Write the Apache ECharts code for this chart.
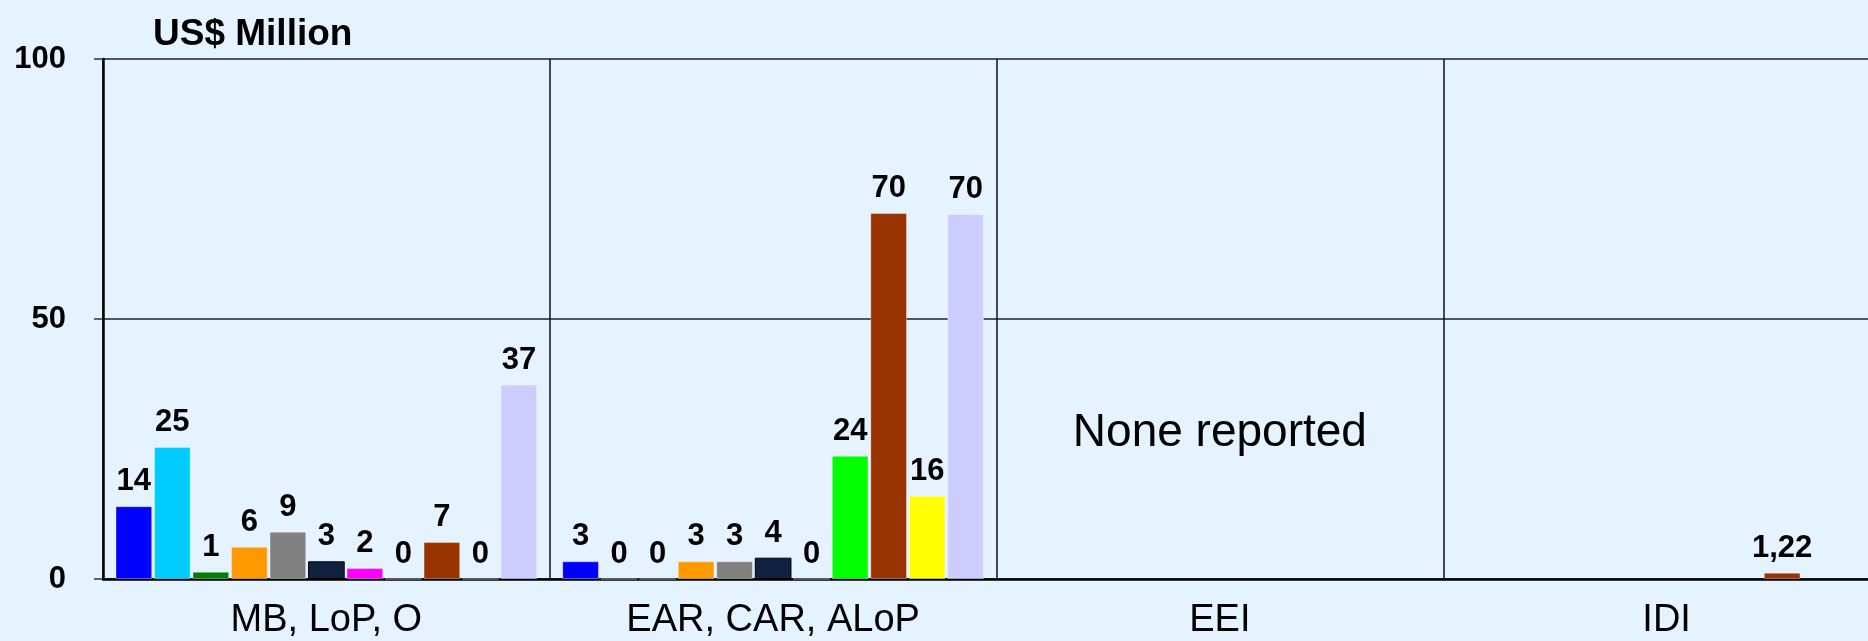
<!DOCTYPE html>
<html>
<head>
<meta charset="utf-8">
<script src="https://cdn.jsdelivr.net/npm/echarts@6/dist/echarts.min.js"></script>
<style>
html,body{margin:0;padding:0;background:#e5f2ff;}
#c{width:1868px;height:641px;}
</style>
</head>
<body>
<div id="c"></div>
<script>
const categories = ['MB, LoP, O', 'EAR, CAR, ALoP', 'EEI', 'IDI'];
const yTicks = [0, 50, 100];
const seriesNames = ['S1','S2','S3','S4','S5','S6','S7','S8','S9','S10','S11'];
const seriesColors = ['#0000ff','#00ccff','#008000','#ff9900','#808080','#112240','#ff00ff','#00ff00','#993300','#ffff00','#ccccff'];
// values per series, one per category (null = none reported)
const s1  = [14.0, 3.4, null, null];
const s2  = [25.4, 0, null, null];
const s3  = [1.4, 0, null, null];
const s4  = [6.2, 3.4, null, null];
const s5  = [9.1, 3.4, null, null];
const s6  = [3.4, 4.1, null, null];
const s7  = [2.1, 0, null, null];
const s8  = [0, 23.7, null, null];
const s9  = [7.1, 70.4, null, 1.22];
const s10 = [0, 16.0, null, null];
const s11 = [37.4, 70.2, null, null];
const labelDecimals = [0, 0, 0, 2];
const noteText = 'None reported';
const notePoint = ['EEI', 28];

const allValues = [s1,s2,s3,s4,s5,s6,s7,s8,s9,s10,s11];
const sans = "'Liberation Sans', Arial, sans-serif";

const chart = echarts.init(document.getElementById('c'), null, {renderer:'canvas'});

const series = allValues.map((vals, i) => ({
  name: seriesNames[i],
  type: 'bar',
  data: vals,
  barGap: '5%',
  barCategoryGap: '5.6%',
  itemStyle: {
    color: seriesColors[i],
    borderColor: i === 5 ? '#000000' : 'rgba(255,255,255,0.35)',
    borderWidth: 1
  },
  label: {
    show: true,
    position: 'top',
    distance: 9,
    fontFamily: sans,
    fontWeight: 'bold',
    fontSize: 31,
    color: '#000',
    formatter: p => {
      const d = labelDecimals[p.dataIndex];
      return d ? p.value.toFixed(d).replace('.', ',') : String(Math.round(p.value));
    }
  }
}));

series.push({
  type: 'scatter',
  data: [notePoint],
  symbolSize: 0,
  silent: true,
  itemStyle: {opacity: 1},
  label: {
    show: true,
    position: 'inside',
    formatter: noteText,
    fontFamily: sans,
    fontSize: 46,
    color: '#000',
    opacity: 1
  }
});

chart.setOption({
  backgroundColor: '#e5f2ff',
  animation: false,
  title: {
    text: 'US$ Million',
    left: 148,
    top: 11,
    textStyle: {fontFamily: sans, fontWeight: 'bold', fontSize: 37, color: '#000'}
  },
  grid: {left: 103, top: 59, width: 1787, height: 520, containLabel: false, outerBoundsMode: 'none'},
  xAxis: {
    type: 'category',
    data: categories,
    axisLine: {show: true, lineStyle: {color: '#000', width: 2.5}},
    axisTick: {show: false},
    splitLine: {show: true, lineStyle: {color: '#111', width: 1.5}},
    axisLabel: {fontFamily: sans, fontSize: 38, color: '#000', margin: 23}
  },
  yAxis: {
    type: 'value',
    min: yTicks[0],
    max: yTicks[yTicks.length - 1],
    interval: yTicks[1] - yTicks[0],
    axisLine: {show: true, lineStyle: {color: '#000', width: 2.5}},
    axisTick: {show: true, length: 9, lineStyle: {color: '#333', width: 1.5}},
    splitLine: {show: true, lineStyle: {color: '#222', width: 1.5}},
    axisLabel: {fontFamily: sans, fontWeight: 'bold', fontSize: 31, color: '#000', margin: 37}
  },
  series: series
});
</script>
</body>
</html>
